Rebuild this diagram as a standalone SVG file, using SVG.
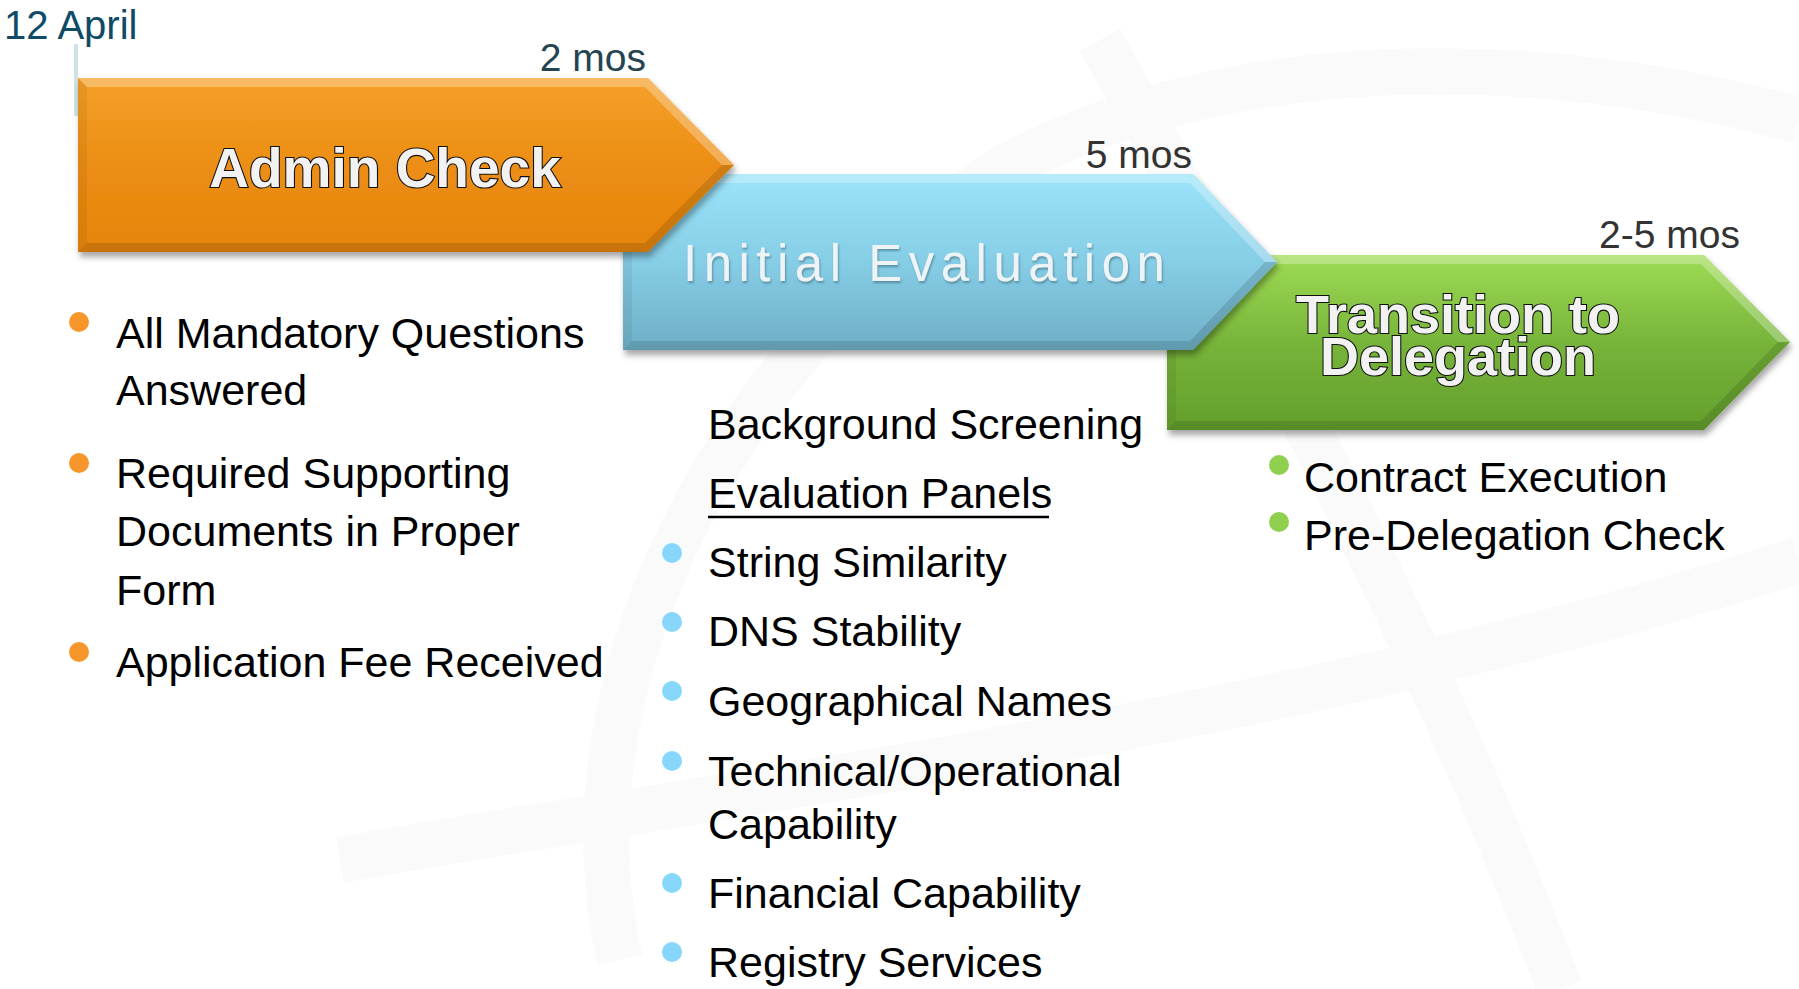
<svg xmlns="http://www.w3.org/2000/svg" width="1799" height="989" viewBox="0 0 1799 989">
<defs>
<style>
.body{font-family:"Liberation Sans",Arial,sans-serif;font-size:43px;fill:#000}
.dur{font-family:"Liberation Sans",Arial,sans-serif;font-size:39px;text-anchor:end}
.bold{font-family:"Liberation Sans",Arial,sans-serif;font-weight:bold;fill:#f2f2f2;stroke:#111;stroke-width:2.2;paint-order:stroke;text-anchor:middle}
.hi{fill:#fff;opacity:.28}
.lo{fill:#000;opacity:.12}
.lo2{fill:#000;opacity:.06}
.wm{fill:none;stroke:#fafafa;stroke-width:46}
</style>
<linearGradient id="gOr" x1="0" y1="0" x2="0" y2="1">
<stop offset="0" stop-color="#f5a02a"/><stop offset="0.5" stop-color="#ec8e14"/><stop offset="1" stop-color="#e5850c"/>
</linearGradient>
<linearGradient id="gBl" x1="0" y1="0" x2="0" y2="1">
<stop offset="0" stop-color="#9be4fa"/><stop offset="0.5" stop-color="#86cde6"/><stop offset="1" stop-color="#6eafc6"/>
</linearGradient>
<linearGradient id="gGr" x1="0" y1="0" x2="0" y2="1">
<stop offset="0" stop-color="#9fdc55"/><stop offset="0.5" stop-color="#77b43a"/><stop offset="1" stop-color="#649f2c"/>
</linearGradient>
<filter id="sh" x="-5%" y="-10%" width="115%" height="130%">
<feDropShadow dx="2" dy="5" stdDeviation="3" flood-color="#000" flood-opacity="0.35"/>
</filter>
<filter id="tsh" x="-5%" y="-20%" width="110%" height="150%">
<feDropShadow dx="1" dy="2" stdDeviation="1" flood-color="#3a6a7a" flood-opacity="0.6"/>
</filter>
</defs>
<rect width="1799" height="989" fill="#fff"/>
<g id="watermark">
<path class="wm" d="M 620 960 C 560 700 700 380 1000 170 C 1200 60 1500 40 1799 120"/>
<path class="wm" d="M 340 860 C 800 780 1300 720 1799 560"/>
<path class="wm" d="M 1100 40 C 1300 400 1450 700 1560 989"/>
</g>
<g id="connectors"/>
<g id="start">
<line x1="76" y1="44" x2="76" y2="116" stroke="#cfe2ea" stroke-width="4"/>
<text x="4" y="39" font-family="Liberation Sans,Arial,sans-serif" font-size="40" fill="#0f4a66">12 April</text>
</g>
<g id="transition">
<polygon points="1167,255 1704,255 1790,342 1704,430 1167,430" fill="url(#gGr)" filter="url(#sh)"/>
<polygon class="hi" points="1167,255 1704,255 1701,264 1176,264"/>
<polygon class="lo" points="1167,430 1704,430 1701,421 1176,421"/>
<polygon class="lo2" points="1167,255 1176,264 1176,421 1167,430"/>
<polygon class="hi" points="1704,255 1790,342 1778,342 1701,264" opacity=".15"/>
<polygon class="lo" points="1704,430 1790,342 1778,342 1701,421"/>
<text class="bold" font-size="54"><tspan x="1458" y="333">Transition to</tspan><tspan x="1458" y="375">Delegation</tspan></text>
<text class="dur" x="1740" y="248" fill="#333">2-5 mos</text>
</g>
<g id="initial">
<polygon points="623,174 1193,174 1277,262 1193,350 623,350" fill="url(#gBl)" filter="url(#sh)"/>
<polygon class="hi" points="623,174 1193,174 1190,183 632,183"/>
<polygon class="lo" points="623,350 1193,350 1190,341 632,341"/>
<polygon class="lo2" points="623,174 632,183 632,341 623,350"/>
<polygon class="hi" points="1193,174 1277,262 1265,262 1190,183" opacity=".15"/>
<polygon class="lo" points="1193,350 1277,262 1265,262 1190,341"/>
<text x="683" y="281" font-family="Liberation Sans,Arial,sans-serif" font-size="51" letter-spacing="6.5" fill="#eef4f6" filter="url(#tsh)">Initial Evaluation</text>
<text class="dur" x="1192" y="168" fill="#333">5 mos</text>
</g>
<g id="admin">
<polygon points="78,78 648,78 734,165 648,252 78,252" fill="url(#gOr)" filter="url(#sh)"/>
<polygon class="hi" points="78,78 648,78 645,87 87,87"/>
<polygon class="lo" points="78,252 648,252 645,243 87,243"/>
<polygon class="lo2" points="78,78 87,87 87,243 78,252"/>
<polygon class="hi" points="648,78 734,165 722,165 645,87" opacity=".15"/>
<polygon class="lo" points="648,252 734,165 722,165 645,243"/>
<text class="bold" x="385" y="187" font-size="55">Admin Check</text>
<text class="dur" x="646" y="71" fill="#24454f">2 mos</text>
</g>
<g id="admin-items">
<circle cx="79" cy="322" r="10" fill="#f7962a"/>
<circle cx="79" cy="463" r="10" fill="#f7962a"/>
<circle cx="79" cy="652" r="10" fill="#f7962a"/>
<text class="body" x="116" y="348">All Mandatory Questions</text>
<text class="body" x="116" y="405">Answered</text>
<text class="body" x="116" y="488">Required Supporting</text>
<text class="body" x="116" y="546">Documents in Proper</text>
<text class="body" x="116" y="605">Form</text>
<text class="body" x="116" y="677">Application Fee Received</text>
</g>
<g id="initial-items">
<text class="body" x="708" y="439">Background Screening</text>
<text class="body" x="708" y="508">Evaluation Panels</text>
<line x1="708" y1="517" x2="1049" y2="517" stroke="#000" stroke-width="2.5"/>
<circle cx="672" cy="553" r="10" fill="#86d7fb"/>
<circle cx="672" cy="622" r="10" fill="#86d7fb"/>
<circle cx="672" cy="691" r="10" fill="#86d7fb"/>
<circle cx="672" cy="761" r="10" fill="#86d7fb"/>
<circle cx="672" cy="883" r="10" fill="#86d7fb"/>
<circle cx="672" cy="952" r="10" fill="#86d7fb"/>
<text class="body" x="708" y="577">String Similarity</text>
<text class="body" x="708" y="646">DNS Stability</text>
<text class="body" x="708" y="716">Geographical Names</text>
<text class="body" x="708" y="786">Technical/Operational</text>
<text class="body" x="708" y="839">Capability</text>
<text class="body" x="708" y="908">Financial Capability</text>
<text class="body" x="708" y="977">Registry Services</text>
</g>
<g id="transition-items">
<circle cx="1279" cy="465" r="10" fill="#8fd14f"/>
<circle cx="1279" cy="522" r="10" fill="#8fd14f"/>
<text class="body" x="1304" y="492">Contract Execution</text>
<text class="body" x="1304" y="550">Pre-Delegation Check</text>
</g>
</svg>
